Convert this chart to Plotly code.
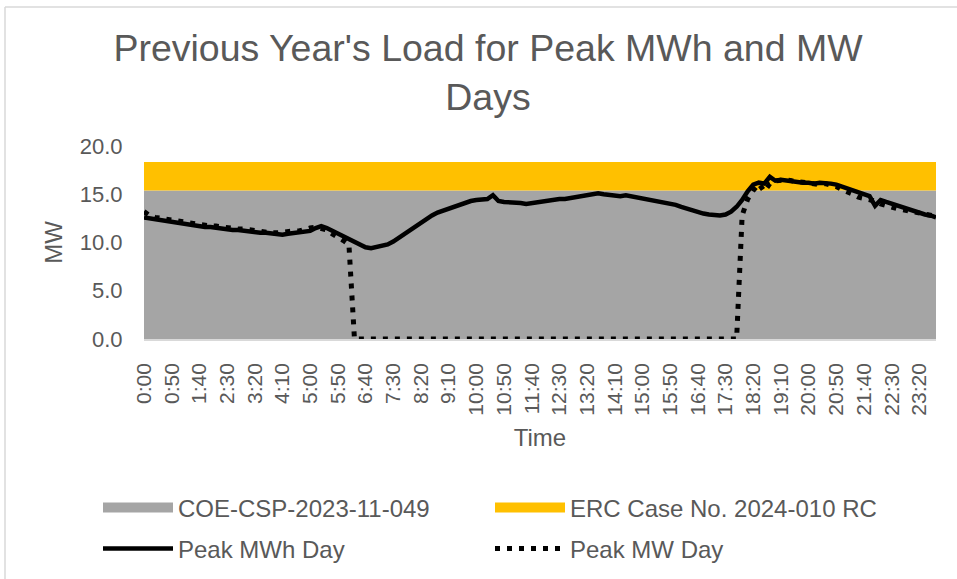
import plotly.graph_objects as go

# ---- data ----
times = [f"{h}:{m:02d}" for h in range(24) for m in range(0, 60, 10)]

tick_labels = ["0:00", "0:50", "1:40", "2:30", "3:20", "4:10", "5:00", "5:50",
               "6:40", "7:30", "8:20", "9:10", "10:00", "10:50", "11:40", "12:30",
               "13:20", "14:10", "15:00", "15:50", "16:40", "17:30", "18:20",
               "19:10", "20:00", "20:50", "21:40", "22:30", "23:20"]

coe_level = 15.4      # COE-CSP-2023-11-049 band
erc_extra = 2.95      # ERC Case No. 2024-010 RC band (stacked on top)

peak_mwh_day = [
    12.6, 12.5, 12.4, 12.3, 12.2, 12.1, 12.0,
    11.9, 11.9, 11.8, 11.7, 11.6, 11.6,
    11.5, 11.4, 11.4, 11.3, 11.3, 11.2,
    11.1, 11.1, 11.0, 11.0, 10.9, 10.9,
    10.8, 10.9, 11.0, 11.1, 11.1, 11.2,
    11.5, 11.7, 11.5, 11.2, 10.9, 10.6,
    10.3, 10.0, 9.7, 9.5, 9.4, 9.5,
    9.6, 9.8, 10.1, 10.5, 10.9, 11.3,
    11.7, 12.1, 12.5, 12.8, 13.1, 13.3,
    13.5, 13.8, 14.0, 14.2, 14.3, 14.4,
    14.4, 14.5, 14.9, 14.3, 14.2, 14.2,
    14.2, 14.1, 14.0, 14.1, 14.2, 14.2,
    14.3, 14.4, 14.5, 14.5, 14.6, 14.7,
    14.8, 14.9, 15.0, 15.1, 15.0, 14.9,
    14.9, 14.8, 14.9, 14.8, 14.7, 14.6,
    14.5, 14.4, 14.3, 14.2, 14.1, 13.9,
    13.7, 13.5, 13.3, 13.1, 13.0, 12.9,
    12.8, 12.8, 12.9, 13.2, 13.7, 14.4,
    15.3, 16.0, 16.2, 16.1, 16.8, 16.4,
    16.5, 16.4, 16.3, 16.3, 16.2, 16.2,
    16.1, 16.2, 16.2, 16.1, 16.0, 15.8,
    15.6, 15.4, 15.2, 15.0, 14.8, 13.8,
    14.4, 14.2, 14.0, 13.8, 13.6, 13.4,
    13.2, 13.1, 12.9, 12.8, 12.6,
]

peak_mw_day = [
    13.2, 12.8, 12.6, 12.5, 12.4, 12.3, 12.2,
    12.1, 12.0, 12.0, 11.9, 11.8, 11.7,
    11.7, 11.6, 11.6, 11.5, 11.4, 11.4,
    11.3, 11.2, 11.2, 11.1, 11.0, 11.0,
    11.1, 11.1, 11.2, 11.2, 11.4, 11.5,
    11.6, 11.5, 11.3, 10.9, 10.6, 10.2,
    9.8, 0.0, 0.0, 0.0, 0.0, 0.0,
    0.0, 0.0, 0.0, 0.0, 0.0, 0.0,
    0.0, 0.0, 0.0, 0.0, 0.0, 0.0,
    0.0, 0.0, 0.0, 0.0, 0.0, 0.0,
    0.0, 0.0, 0.0, 0.0, 0.0, 0.0,
    0.0, 0.0, 0.0, 0.0, 0.0, 0.0,
    0.0, 0.0, 0.0, 0.0, 0.0, 0.0,
    0.0, 0.0, 0.0, 0.0, 0.0, 0.0,
    0.0, 0.0, 0.0, 0.0, 0.0, 0.0,
    0.0, 0.0, 0.0, 0.0, 0.0, 0.0,
    0.0, 0.0, 0.0, 0.0, 0.0, 0.0,
    0.0, 0.0, 0.0, 0.0, 0.0, 12.8, 14.5,
    15.4, 16.1, 15.3, 16.1, 16.4, 16.5,
    16.5, 16.4, 16.3, 16.3, 16.2, 16.1,
    16.0, 16.1, 16.0, 15.8, 15.5, 15.3,
    15.0, 14.7, 14.6, 14.5, 14.3, 14.0,
    13.8, 13.7, 13.5, 13.4, 13.3, 13.1,
    13.0, 12.9, 12.8, 12.7, 12.6,
]

# ---- style ----
FONT = "Liberation Sans, Arial, sans-serif"
TXT = "#595959"
GRAY = "#a5a5a5"
ORANGE = "#ffc000"
GRID = "#d9d9d9"

W, H = 957, 579
L, R, T, B = 144, 21, 146, 240

def px_x(p):  # container px -> paper x
    return (p - L) / (W - L - R)

def px_y(p):  # container px -> paper y
    return ((H - B) - p) / (H - T - B)

n = len(times)
fig = go.Figure()
# stacked band areas (legend shown through wide swatch entries below)
fig.add_trace(go.Scatter(x=times, y=[coe_level] * n, name="COE-CSP-2023-11-049",
                         mode="lines", stackgroup="bands", line=dict(width=0, color=GRAY),
                         fillcolor=GRAY, legendgroup="coe", showlegend=False,
                         hoverinfo="skip"))
fig.add_trace(go.Scatter(x=times, y=[erc_extra] * n, name="ERC Case No. 2024-010 RC",
                         mode="lines", stackgroup="bands", line=dict(width=0, color=ORANGE),
                         fillcolor=ORANGE, legendgroup="erc", showlegend=False,
                         hoverinfo="skip"))
# legend swatches for the bands
fig.add_trace(go.Scatter(x=[None], y=[None], name="COE-CSP-2023-11-049", mode="lines",
                         line=dict(color=GRAY, width=15), legendgroup="coe",
                         legend="legend"))
fig.add_trace(go.Scatter(x=[None], y=[None], name="ERC Case No. 2024-010 RC", mode="lines",
                         line=dict(color=ORANGE, width=15), legendgroup="erc",
                         legend="legend"))
fig.add_trace(go.Scatter(x=times, y=peak_mwh_day, name="Peak MWh Day", mode="lines",
                         line=dict(color="black", width=4.5), legend="legend2"))
fig.add_trace(go.Scatter(x=times, y=peak_mw_day, name="Peak MW Day", mode="lines",
                         line=dict(color="black", width=5, dash="5px,7px"), legend="legend2"))

legend_common = dict(orientation="h", xref="container", yref="container",
                     x=98 / W, xanchor="left", yanchor="middle",
                     font=dict(family=FONT, size=24, color=TXT),
                     entrywidth=307, entrywidthmode="pixels", itemwidth=70,
                     bgcolor="rgba(0,0,0,0)", traceorder="normal")

fig.update_layout(
    width=W, height=H,
    margin=dict(l=L, r=R, t=T, b=B),
    paper_bgcolor="white", plot_bgcolor="white",
    font=dict(family=FONT, color=TXT),
    title=dict(text="Previous Year's Load for Peak MWh and MW<br>Days",
               x=488 / W, xanchor="center", xref="container",
               y=1 - 61 / H, yanchor="top", yref="container",
               font=dict(family=FONT, size=37.5, color=TXT)),
    legend=dict(y=1 - 508 / H, **legend_common),
    legend2=dict(y=1 - 549 / H, **legend_common),
    showlegend=True,
    xaxis=dict(type="category", range=[0, n - 1], tickmode="array",
               tickvals=tick_labels, ticktext=tick_labels, tickangle=-90,
               tickfont=dict(family=FONT, size=21, color=TXT),
               ticks="outside", ticklen=14, tickcolor="rgba(0,0,0,0)",
               showgrid=False, showline=True, linecolor=GRID, linewidth=1.5,
               zeroline=False,
               title=dict(text="Time", standoff=14,
                          font=dict(family=FONT, size=24, color=TXT))),
    yaxis=dict(range=[0, 20], dtick=5, tickformat=".1f",
               tickfont=dict(family=FONT, size=22, color=TXT),
               ticks="outside", ticklen=16, tickcolor="rgba(0,0,0,0)",
               showgrid=True, gridcolor=GRID, gridwidth=1.5,
               showline=False, zeroline=False,
               title=dict(text="MW", standoff=10,
                          font=dict(family=FONT, size=24, color=TXT))),
)

# chart-area border (left and top edges visible in the reference)
fig.add_shape(type="line", xref="paper", yref="paper",
              x0=px_x(5), x1=px_x(5), y0=px_y(H + 5), y1=px_y(7),
              line=dict(color=GRID, width=1.5))
fig.add_shape(type="line", xref="paper", yref="paper",
              x0=px_x(5), x1=px_x(W + 5), y0=px_y(7), y1=px_y(7),
              line=dict(color=GRID, width=1.5))

fig.write_html("out.html", config={"displayModeBar": False},
               post_script="document.body.style.margin='0';document.body.style.overflow='hidden';")
